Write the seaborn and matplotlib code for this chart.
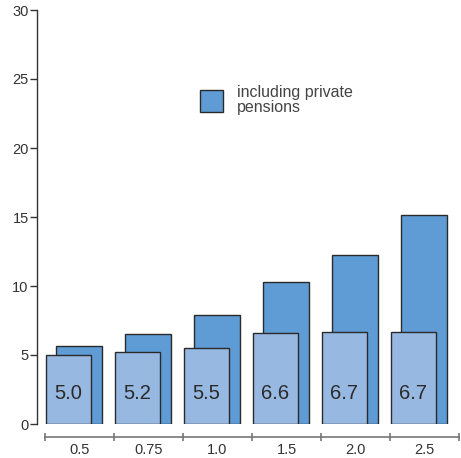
import matplotlib
matplotlib.use("Agg")
import matplotlib.pyplot as plt
import seaborn as sns
import pandas as pd

categories = ["0.5", "0.75", "1.0", "1.5", "2.0", "2.5"]
public_only = [5.0, 5.2, 5.5, 6.6, 6.7, 6.7]
with_private = [5.65, 6.5, 7.9, 10.3, 12.25, 15.15]

df = pd.DataFrame({"cat": categories, "public": public_only, "private": with_private})

sns.set_style("white")
narrow = ["Liberation Sans Narrow", "Liberation Sans", "DejaVu Sans"]
plt.rcParams["font.family"] = ["Liberation Sans", "DejaVu Sans"]

fig = plt.figure(figsize=(4.61, 4.58), dpi=100)
ax = fig.add_axes([37 / 461, 34 / 458, 424 / 461, 414 / 458])

back_col = "#5f9bd4"
front_col = "#97b8e1"
edge = "#2a2a2a"

sns.barplot(data=df, x="cat", y="private", color=back_col, width=0.66,
            edgecolor=edge, linewidth=1.0, saturation=1,
            label="including private\npensions", ax=ax)
n = len(categories)
back = list(ax.patches)
sns.barplot(data=df, x="cat", y="public", color=front_col, width=0.66,
            edgecolor=edge, linewidth=1.0, saturation=1, ax=ax)
front = [p for p in ax.patches if p not in back]

for p in back:
    p.set_x(p.get_x() - 0.01)
for p, v in zip(front, public_only):
    p.set_x(p.get_x() - 0.16)
    ax.text(p.get_x() + p.get_width() / 2, 2.2, f"{v:.1f}", ha="center", va="center",
            fontsize=14.5, color="#2a2a2a", family=narrow)

ax.set_xlim(-0.5 - 8 / 69, -0.5 + 416 / 69)
ax.set_ylim(0, 30)
ax.set_yticks([0, 5, 10, 15, 20, 25, 30])
ax.set_ylabel("")
ax.set_xlabel("")

for s in ["top", "right"]:
    ax.spines[s].set_visible(False)
ax.spines["left"].set_color("#333333")
ax.spines["left"].set_linewidth(1.0)
ax.spines["bottom"].set_position(("outward", 9))
ax.spines["bottom"].set_bounds(-0.5, n - 0.5)
ax.spines["bottom"].set_color("#777777")
ax.spines["bottom"].set_linewidth(1.2)

ax.set_xticks([i - 0.5 for i in range(n + 1)])
ax.set_xticklabels([])
ax.set_xticks(list(range(n)), minor=True)
ax.set_xticklabels(categories, minor=True, fontsize=10.5, color="#333333", family=narrow)
ax.tick_params(axis="x", which="major", bottom=True, direction="inout", length=6,
               width=1.2, color="#777777")
ax.tick_params(axis="x", which="minor", bottom=True, length=0, pad=5)
ax.tick_params(axis="y", left=True, direction="out", length=5, width=1.0, color="#333333",
               labelsize=10.5, labelcolor="#333333", pad=1)
for t in ax.get_yticklabels():
    t.set_family(narrow)

leg = ax.legend(loc="upper left", bbox_to_anchor=(186 / 461, 1 - 71 / 458),
                bbox_transform=fig.transFigure, frameon=False, fontsize=11.5,
                handlelength=1.4, handleheight=1.8, handletextpad=0.9,
                labelcolor="#444444")
for t in leg.get_texts():
    t.set_linespacing(0.95)

fig.savefig("out.png", dpi=100)
